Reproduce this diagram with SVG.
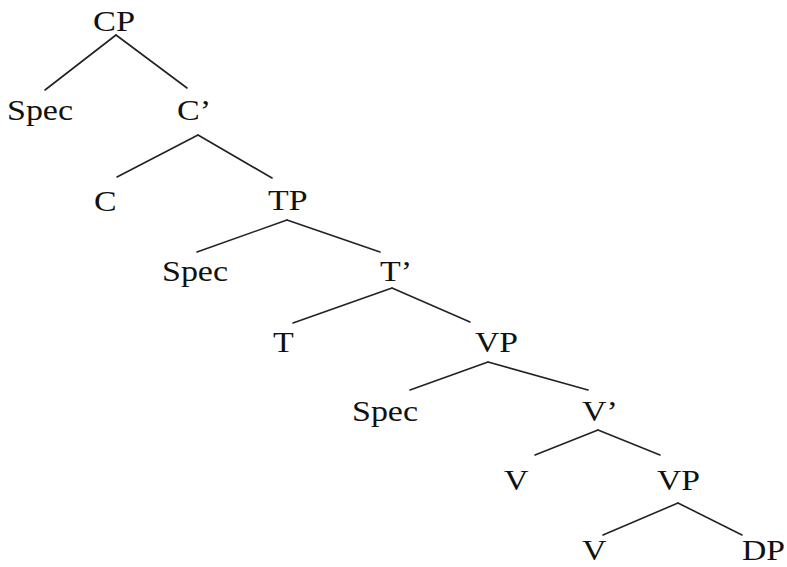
<svg xmlns="http://www.w3.org/2000/svg" width="787" height="567" viewBox="0 0 787 567">
<style>
text{font-family:"Liberation Serif","Times New Roman",serif;font-size:30px;fill:#111}
.e line{stroke:#222;stroke-width:1.6;stroke-linecap:round}
</style>
<rect width="787" height="567" fill="#fff"/>
<g class="e" id="connectors">
<line x1="116" y1="35" x2="45" y2="90"/>
<line x1="116" y1="35" x2="187" y2="88"/>
<line x1="198" y1="135" x2="117" y2="177"/>
<line x1="198" y1="135" x2="272" y2="178"/>
<line x1="287" y1="220" x2="197" y2="252"/>
<line x1="287" y1="220" x2="380" y2="252"/>
<line x1="392" y1="288" x2="293" y2="323"/>
<line x1="392" y1="288" x2="470" y2="322"/>
<line x1="488" y1="362" x2="410" y2="390"/>
<line x1="488" y1="362" x2="588" y2="390"/>
<line x1="598" y1="430" x2="535" y2="455"/>
<line x1="598" y1="430" x2="660" y2="455"/>
<line x1="678" y1="503" x2="603" y2="535"/>
<line x1="678" y1="503" x2="742" y2="535"/>
</g>
<g id="cp"><text x="93" y="31" textLength="42" lengthAdjust="spacingAndGlyphs">CP</text></g>
<g id="spec1"><text x="7" y="120" textLength="66" lengthAdjust="spacingAndGlyphs">Spec</text></g>
<g id="cbar"><text x="177" y="120" textLength="34" lengthAdjust="spacingAndGlyphs">C’</text></g>
<g id="c"><text x="94" y="211" textLength="22.6" lengthAdjust="spacingAndGlyphs">C</text></g>
<g id="tp"><text x="268" y="210" textLength="39.5" lengthAdjust="spacingAndGlyphs">TP</text></g>
<g id="spec2"><text x="162" y="281" textLength="66" lengthAdjust="spacingAndGlyphs">Spec</text></g>
<g id="tbar"><text x="380" y="281" textLength="32" lengthAdjust="spacingAndGlyphs">T’</text></g>
<g id="t"><text x="273" y="352" textLength="20.7" lengthAdjust="spacingAndGlyphs">T</text></g>
<g id="vp1"><text x="475" y="352" textLength="43" lengthAdjust="spacingAndGlyphs">VP</text></g>
<g id="spec3"><text x="352" y="421" textLength="66" lengthAdjust="spacingAndGlyphs">Spec</text></g>
<g id="vbar"><text x="582" y="421" textLength="35.8" lengthAdjust="spacingAndGlyphs">V’</text></g>
<g id="v1"><text x="504" y="490" textLength="24.5" lengthAdjust="spacingAndGlyphs">V</text></g>
<g id="vp2"><text x="657" y="490" textLength="43" lengthAdjust="spacingAndGlyphs">VP</text></g>
<g id="v2"><text x="582" y="560" textLength="24.5" lengthAdjust="spacingAndGlyphs">V</text></g>
<g id="dp"><text x="742" y="560" textLength="43" lengthAdjust="spacingAndGlyphs">DP</text></g>
</svg>
